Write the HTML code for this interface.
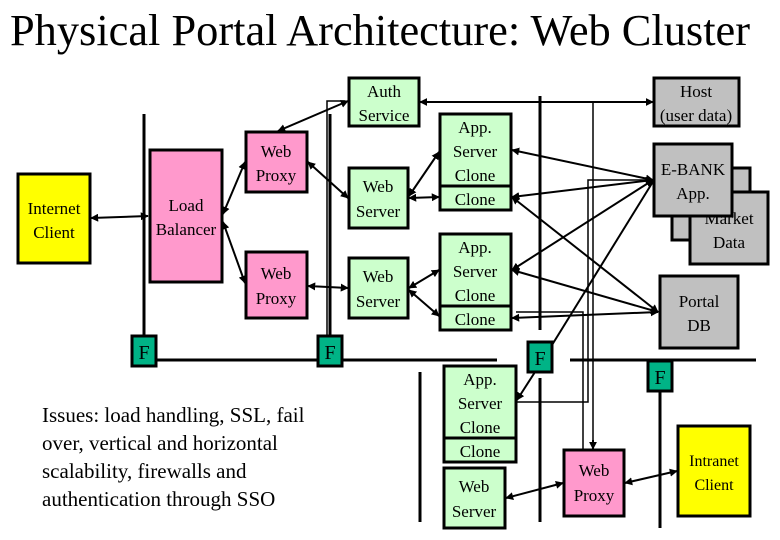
<!DOCTYPE html>
<html><head><meta charset="utf-8"><style>
html,body{margin:0;padding:0;background:#fff;}
svg{display:block;font-family:"Liberation Serif",serif;}
</style></head><body>
<svg width="780" height="540" viewBox="0 0 780 540" xmlns="http://www.w3.org/2000/svg">
<defs>
<marker id="a" viewBox="0 0 10 10" refX="9" refY="5" markerWidth="4" markerHeight="4" orient="auto-start-reverse"><path d="M0,0L10,5L0,10z" fill="#000"/></marker>
</defs>
<text x="10" y="45" font-size="44" textLength="740" lengthAdjust="spacingAndGlyphs">Physical Portal Architecture: Web Cluster</text>

<!-- firewall lines -->
<g stroke="#000" stroke-width="3" fill="none">
<line x1="144" y1="114" x2="144" y2="336"/>
<line x1="330" y1="114" x2="330" y2="336"/>
<line x1="540" y1="96" x2="540" y2="330"/>
<line x1="156" y1="360" x2="318" y2="360"/>
<line x1="342" y1="360" x2="497" y2="360"/>
<line x1="570" y1="360" x2="756" y2="360"/>
<line x1="420" y1="372" x2="420" y2="522"/>
<line x1="540" y1="378" x2="540" y2="522"/>
<line x1="660" y1="390" x2="660" y2="528"/>
</g>
<g stroke="#000" stroke-width="1.5" fill="none">
<line x1="593" y1="103" x2="593" y2="450"/>
<polyline points="327,336 327,101 345,101"/>
<polyline points="516,402 588,402 588,180 654,180"/>
<polyline points="516,312 583,312 583,450"/>
</g>

<!-- arrows -->
<g stroke="#000" stroke-width="2" fill="none" marker-start="url(#a)" marker-end="url(#a)">
<line x1="91" y1="218" x2="148" y2="216"/>
<line x1="223" y1="214" x2="245" y2="162"/>
<line x1="223" y1="222" x2="245" y2="283"/>
<line x1="308" y1="162" x2="348" y2="198"/>
<line x1="308" y1="286" x2="348" y2="288"/>
<line x1="278" y1="131" x2="348" y2="101"/>
<line x1="420" y1="102" x2="653" y2="102"/>
<line x1="409" y1="196" x2="439" y2="152"/>
<line x1="409" y1="198" x2="439" y2="197"/>
<line x1="409" y1="288" x2="439" y2="270"/>
<line x1="409" y1="290" x2="439" y2="316"/>
<line x1="512" y1="150" x2="653" y2="180"/>
<line x1="512" y1="197" x2="653" y2="180"/>
<line x1="512" y1="270" x2="653" y2="180"/>
<line x1="512" y1="197" x2="658" y2="312"/>
<line x1="512" y1="270" x2="658" y2="312"/>
<line x1="512" y1="318" x2="658" y2="312"/>
<line x1="506" y1="498" x2="563" y2="483"/>
<line x1="625" y1="483" x2="677" y2="471"/>
</g>
<g stroke="#000" stroke-width="2" fill="none">
<line x1="552" y1="345" x2="654" y2="180"/>
<line x1="535" y1="372" x2="517" y2="400" marker-end="url(#a)"/>
<line x1="593" y1="440" x2="593" y2="449" marker-end="url(#a)"/>
<line x1="560" y1="450" x2="560" y2="450"/>
</g>

<g stroke="#000" stroke-width="3" font-size="17" text-anchor="middle">
<rect x="18" y="174" width="72" height="89" fill="#ffff00"/>
<rect x="150" y="150" width="72" height="132" fill="#ff99cc"/>
<rect x="246" y="132" width="61" height="60" fill="#ff99cc"/>
<rect x="246" y="252" width="61" height="66" fill="#ff99cc"/>
<rect x="349" y="78" width="70" height="48" fill="#ccffcc"/>
<rect x="349" y="168" width="59" height="60" fill="#ccffcc"/>
<rect x="349" y="258" width="59" height="60" fill="#ccffcc"/>
<rect x="440" y="114" width="71" height="96" fill="#ccffcc"/>
<line x1="440" y1="186" x2="511" y2="186"/>
<rect x="440" y="234" width="71" height="96" fill="#ccffcc"/>
<line x1="440" y1="306" x2="511" y2="306"/>
<rect x="444" y="366" width="72" height="96" fill="#ccffcc"/>
<line x1="444" y1="438" x2="516" y2="438"/>
<rect x="444" y="468" width="61" height="60" fill="#ccffcc"/>
<rect x="564" y="450" width="60" height="66" fill="#ff99cc"/>
<rect x="678" y="426" width="72" height="90" fill="#ffff00"/>
<rect x="654" y="78" width="85" height="48" fill="#c0c0c0"/>
<rect x="672" y="168" width="78" height="72" fill="#c0c0c0"/>
<rect x="690" y="192" width="78" height="72" fill="#c0c0c0"/>
<rect x="654" y="144" width="78" height="72" fill="#c0c0c0"/>
<rect x="660" y="276" width="78" height="72" fill="#c0c0c0"/>
<rect x="132" y="336" width="24" height="30" fill="#00b386"/>
<rect x="318" y="336" width="24" height="30" fill="#00b386"/>
<rect x="528" y="342" width="24" height="30" fill="#00b386"/>
<rect x="648" y="361" width="24" height="30" fill="#00b386"/>
</g>

<g font-size="17" text-anchor="middle" fill="#000">
<text x="54" y="214">Internet</text><text x="54" y="238">Client</text>
<text x="186" y="211">Load</text><text x="186" y="235">Balancer</text>
<text x="276" y="157">Web</text><text x="276" y="181">Proxy</text>
<text x="276" y="279">Web</text><text x="276" y="304">Proxy</text>
<text x="384" y="97">Auth</text><text x="384" y="121">Service</text>
<text x="378" y="192">Web</text><text x="378" y="217">Server</text>
<text x="378" y="282">Web</text><text x="378" y="307">Server</text>
<text x="475" y="133">App.</text><text x="475" y="157">Server</text><text x="475" y="181">Clone</text><text x="475" y="205">Clone</text>
<text x="475" y="253">App.</text><text x="475" y="277">Server</text><text x="475" y="301">Clone</text><text x="475" y="325">Clone</text>
<text x="480" y="385">App.</text><text x="480" y="409">Server</text><text x="480" y="433">Clone</text><text x="480" y="457">Clone</text>
<text x="474" y="492">Web</text><text x="474" y="517">Server</text>
<text x="594" y="476">Web</text><text x="594" y="501">Proxy</text>
<text x="714" y="466" font-size="16">Intranet</text><text x="714" y="490" font-size="16">Client</text>
<text x="696" y="97">Host</text><text x="696" y="121">(user data)</text>
<text x="729" y="224">Market</text><text x="729" y="248">Data</text>
<rect x="654" y="144" width="78" height="72" fill="#c0c0c0" stroke="#000" stroke-width="3"/>
<text x="693" y="175">E-BANK</text><text x="693" y="199">App.</text>
<text x="699" y="307">Portal</text><text x="699" y="331">DB</text>
<text x="144" y="359" font-size="20">F</text>
<text x="330" y="359" font-size="20">F</text>
<text x="540" y="365" font-size="20">F</text>
<text x="660" y="384" font-size="20">F</text>
</g>

<g font-size="21" fill="#000">
<text x="42" y="422">Issues: load handling, SSL, fail</text>
<text x="42" y="450">over, vertical and horizontal</text>
<text x="42" y="478">scalability, firewalls and</text>
<text x="42" y="506">authentication through SSO</text>
</g>
</svg>
</body></html>
